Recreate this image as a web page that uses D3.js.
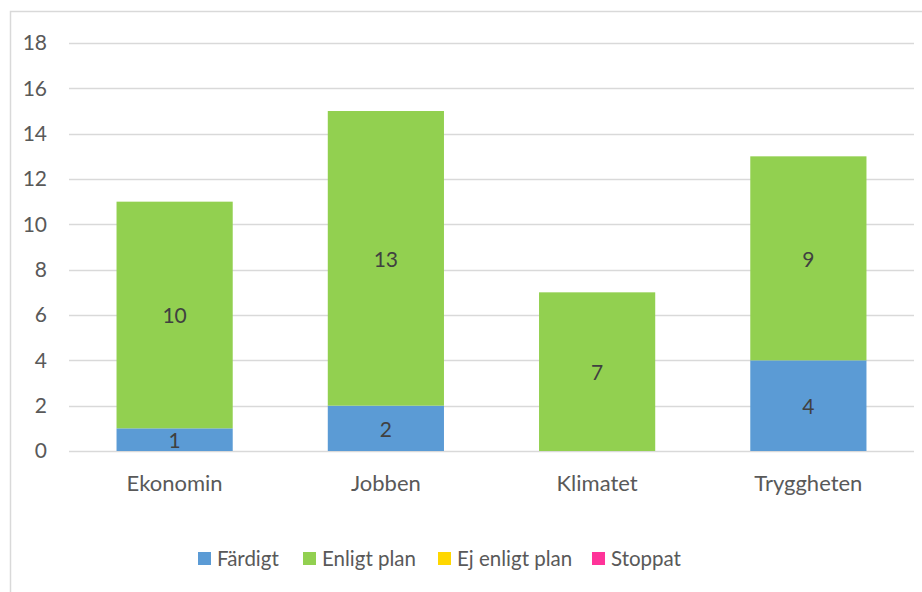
<!DOCTYPE html>
<html><head><meta charset="utf-8">
<script src="https://cdn.jsdelivr.net/npm/d3@7"></script>
<style>body{margin:0;background:#fff;} svg{display:block;font-family:Lato,"Noto Sans",sans-serif;}</style>
</head><body>
<svg id="c" width="922" height="592"></svg>
<script>
const categories = ["Ekonomin","Jobben","Klimatet","Tryggheten"];
const seriesNames = ["Färdigt","Enligt plan","Ej enligt plan","Stoppat"];
const fardigt = [1,2,0,4];
const enligtPlan = [10,13,7,9];
const ejEnligtPlan = [0,0,0,0];
const stoppat = [0,0,0,0];
const yTicks = [0,2,4,6,8,10,12,14,16,18];
const colors = ["#5B9BD5","#92D050","#FFD700","#FF3399"];

(function(){
const svg = d3.select("#c");
svg.append("rect").attr("x",10.5).attr("y",11.5).attr("width",930).attr("height",600)
  .attr("fill","#fff").attr("stroke","#d9d9d9").attr("stroke-width",1.5);

const pLeft=69, pRight=914, pTop=43, pBottom=451;
const x = d3.scaleBand().domain(categories).range([pLeft,pRight]).paddingInner(0.45).paddingOuter(0.225);
const y = d3.scaleLinear().domain([0,18]).range([pBottom,pTop]);

const table = categories.map((c,i)=>({cat:c,"Färdigt":fardigt[i],"Enligt plan":enligtPlan[i],"Ej enligt plan":ejEnligtPlan[i],"Stoppat":stoppat[i]}));
const stacked = d3.stack().keys(seriesNames)(table);

svg.append("g").selectAll("line").data(yTicks).join("line")
  .attr("x1",pLeft).attr("x2",pRight).attr("y1",d=>Math.round(y(d))+0.5).attr("y2",d=>Math.round(y(d))+0.5)
  .attr("stroke","#d9d9d9").attr("stroke-width",1.5);

const yAxis = d3.axisLeft(y).tickValues(yTicks).tickSize(0).tickPadding(0);
const ya = svg.append("g").attr("transform",`translate(${47},0)`).call(yAxis);
ya.select(".domain").remove();
ya.selectAll("text").attr("fill","#595959").style("font-size","21px").style("font-family","Lato,'Noto Sans',sans-serif");

stacked.forEach((s,si)=>{
  const g = svg.append("g");
  g.selectAll("rect").data(s).join("rect")
    .attr("x",d=>x(d.data.cat)).attr("width",x.bandwidth())
    .attr("y",d=>y(d[1])).attr("height",d=>y(d[0])-y(d[1]))
    .attr("fill",colors[si]);
  g.selectAll("text").data(s.filter(d=>d[1]-d[0]>0)).join("text")
    .attr("x",d=>x(d.data.cat)+x.bandwidth()/2)
    .attr("y",d=>(y(d[0])+y(d[1]))/2 + 1)
    .attr("dy","0.35em").attr("text-anchor","middle")
    .attr("fill","#404040").style("font-size","21px")
    .text(d=>d[1]-d[0]);
});

const xAxis = d3.axisBottom(x).tickSize(0).tickPadding(0);
const xa = svg.append("g").attr("transform",`translate(0,${pBottom+24})`).call(xAxis);
xa.select(".domain").remove();
xa.selectAll("text").attr("fill","#595959").style("font-size","22px").style("font-family","Lato,'Noto Sans',sans-serif");

const legendX = [198,303,438,592];
const lg = svg.append("g");
seriesNames.forEach((n,i)=>{
  lg.append("rect").attr("x",legendX[i]).attr("y",552).attr("width",13).attr("height",13).attr("fill",colors[i]);
  lg.append("text").attr("x",legendX[i]+19).attr("y",559).attr("dy","0.35em")
    .attr("fill","#595959").style("font-size","20.5px").text(n);
});
})();
</script>
</body></html>
